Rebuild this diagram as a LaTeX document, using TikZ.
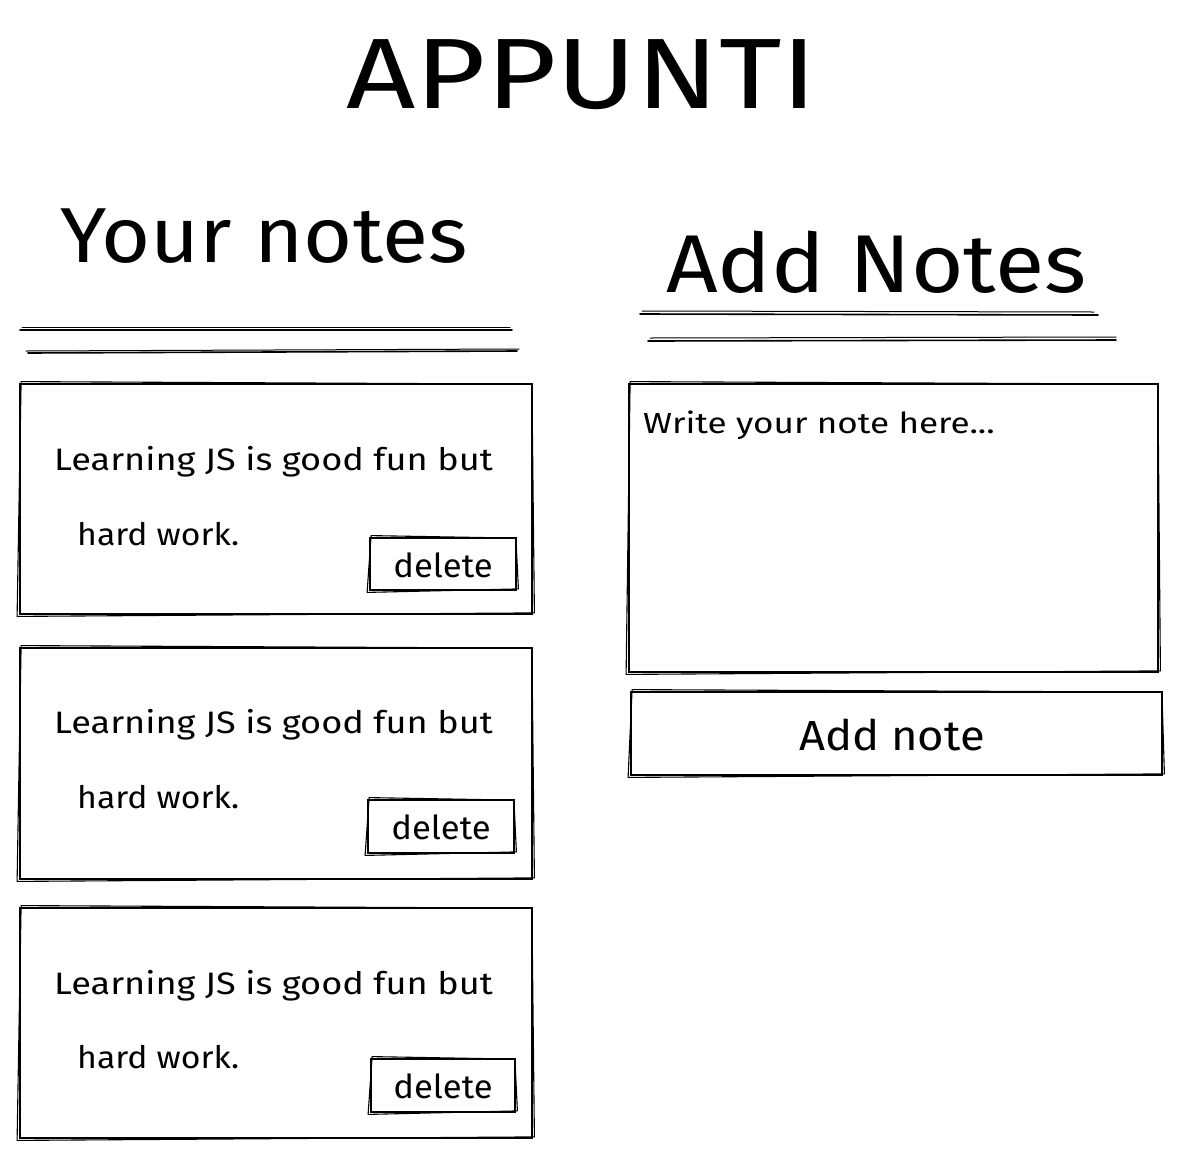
\documentclass[tikz,border=0pt]{standalone}
\usepackage{fontspec}
\setmainfont{Fira Sans}
\tikzset{
  box/.style={draw=black, line width=1.8pt, inner sep=0pt},
  echo/.style={draw=black, line width=1.1pt},
  rule/.style={draw=black, line width=1.6pt, line cap=round},
  ruleb/.style={draw=black, line width=1pt, line cap=round},
  txt/.style={inner sep=0pt, anchor=base west, text=black},
}
\newcommand{\hs}[2]{\scalebox{#1}[1]{#2}}
\newcommand{\skbox}[5]{% name, x1, y1, x2, y2
  \node[box, minimum width={#4-#2}, minimum height={#5-#3}] (#1) at ({(#2+#4)/2},{(#3+#5)/2}) {};
  \draw[echo] ([shift={(2,-1.5)}]#1.north west) -- ([shift={(-1,1)}]#1.north east)
              -- ([shift={(1.5,-2)}]#1.south east) -- ([shift={(-2,1.5)}]#1.south west) -- cycle;
}
\begin{document}
\begin{tikzpicture}[x=1pt,y=-1pt]
\useasboundingbox[fill=white] (0,0) rectangle (1181,1157);

% title
\node[txt, anchor=base, font=\fontsize{100}{110}\selectfont] (title) at (582,108) {\hs{1.21}{APPUNTI}};

% headings
\node[txt, font=\fontsize{78}{86}\selectfont] (yn) at (60,262) {\hs{1.08}{Your notes}};
\node[txt, font=\fontsize{82}{90}\selectfont] (an) at (666,292) {\hs{1.1}{Add Notes}};

% double rules under headings
\coordinate (l1a) at (20,330); \coordinate (l1b) at (512,330);
\coordinate (l2a) at (28,353); \coordinate (l2b) at (517,351);
\draw[rule] (l1a) -- (l1b);
\draw[ruleb] ([shift={(2,-3)}]l1a) -- ([shift={(-2,-3)}]l1b);
\draw[rule] (l2a) -- (l2b);
\draw[ruleb] ([shift={(-2,-2)}]l2a) -- ([shift={(2,-2)}]l2b);

\coordinate (r1a) at (640,314); \coordinate (r1b) at (1098,315);
\coordinate (r2a) at (648,341); \coordinate (r2b) at (1116,340);
\draw[rule] (r1a) -- (r1b);
\draw[ruleb] ([shift={(2,-3)}]r1a) -- ([shift={(-4,-3)}]r1b);
\draw[rule] (r2a) -- (r2b);
\draw[ruleb] ([shift={(2,-3)}]r2a) -- ([shift={(0,-3)}]r2b);

% note cards
\skbox{n1}{20}{384}{532}{614}
\skbox{n2}{20}{648}{532}{879}
\skbox{n3}{20}{908}{532}{1138}

\skbox{d1}{370}{538}{516}{590}
\skbox{d2}{368}{800}{514}{853}
\skbox{d3}{371}{1059}{515}{1112}

\begin{scope}[every node/.style={txt, font=\fontsize{31}{36}\selectfont}]
\node (t1a) at (54,470) {\hs{1.165}{Learning JS is good fun but}};
\node (t1b) at (77,545) {\hs{1.09}{hard work.}};
\node (t2a) at (54,733) {\hs{1.165}{Learning JS is good fun but}};
\node (t2b) at (77,808) {\hs{1.09}{hard work.}};
\node (t3a) at (54,994) {\hs{1.165}{Learning JS is good fun but}};
\node (t3b) at (77,1068) {\hs{1.09}{hard work.}};
\end{scope}

\begin{scope}[every node/.style={txt, anchor=base, font=\fontsize{33}{38}\selectfont}]
\node (dl1) at (443,577) {\hs{1.05}{delete}};
\node (dl2) at (441,839) {\hs{1.05}{delete}};
\node (dl3) at (443,1098) {\hs{1.05}{delete}};
\end{scope}

% add note form
\skbox{ta}{629}{384}{1158}{672}
\node[txt, font=\fontsize{29}{34}\selectfont] (ph) at (643,433) {\hs{1.21}{Write your note here...}};
\skbox{btn}{631}{692}{1162}{775}
\node[txt, anchor=base, font=\fontsize{42}{48}\selectfont] (bl) at (892,750) {\hs{1.08}{Add note}};
\end{tikzpicture}
\end{document}
